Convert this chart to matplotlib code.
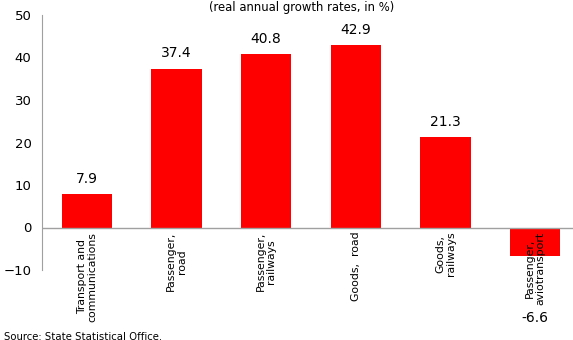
import numpy as np
import matplotlib
matplotlib.use("Agg")
import matplotlib.pyplot as plt

# ── データ ──────────────────────────────
categories = [
    "Transport and\ncommunications",
    "Passenger,\nroad",
    "Passenger,\nrailways",
    "Goods,  road",
    "Goods,\nrailways",
    "Passenger,\naviotransport",
]
values = [7.9, 37.4, 40.8, 42.9, 21.3, -6.6]
value_labels = ["7.9", "37.4", "40.8", "42.9", "21.3", "-6.6"]

plt.rcParams["font.family"] = ["DejaVu Sans"]

W, H = 573, 340
fig = plt.figure(figsize=(W / 100, H / 100), dpi=100)

# 軸: 左 42px, 上 15px(=50), 下 270px(=-10)
ax = fig.add_axes([42 / W, 1 - 270 / H, 538 / W, 255 / H])

x = np.arange(len(values))
ax.bar(x, values, width=0.56, color="#ff0000", zorder=2)

ax.set_xlim(-0.5, len(values) - 0.5)
ax.set_ylim(-10, 50)
ax.set_yticks([-10, 0, 10, 20, 30, 40, 50])
ax.tick_params(axis="y", length=0, pad=7.5, labelsize=9.5)
ax.tick_params(axis="x", length=0)
ax.set_xticks([])

for s in ["top", "right", "bottom"]:
    ax.spines[s].set_visible(False)
ax.spines["left"].set_color("#a0a0a0")
ax.axhline(0, color="#a0a0a0", linewidth=1, zorder=3)

# カテゴリ名 (回転)
for xi, cat in zip(x, categories):
    ax.annotate(cat, (xi, 0), xytext=(0, -3), textcoords="offset points",
                rotation=90, ha="center", va="top", fontsize=7.8,
                multialignment="center", linespacing=1.05, zorder=4)

# 値ラベル
for xi, v, lab in zip(x, values, value_labels):
    if v >= 0:
        ax.annotate(lab, (xi, v), xytext=(0, 6), textcoords="offset points",
                    ha="center", va="bottom", fontsize=10)
    else:
        ax.text(xi, -21.2, lab, ha="center", va="center", fontsize=10,
                clip_on=False)

fig.text(302 / W, 1 - 8 / H, "(real annual growth rates, in %)",
         ha="center", va="center", fontsize=8.4)
fig.text(4 / W, 1 - 337 / H, "Source: State Statistical Office.",
         ha="left", va="center", fontsize=7.3)

fig.savefig("out.png", dpi=100)
